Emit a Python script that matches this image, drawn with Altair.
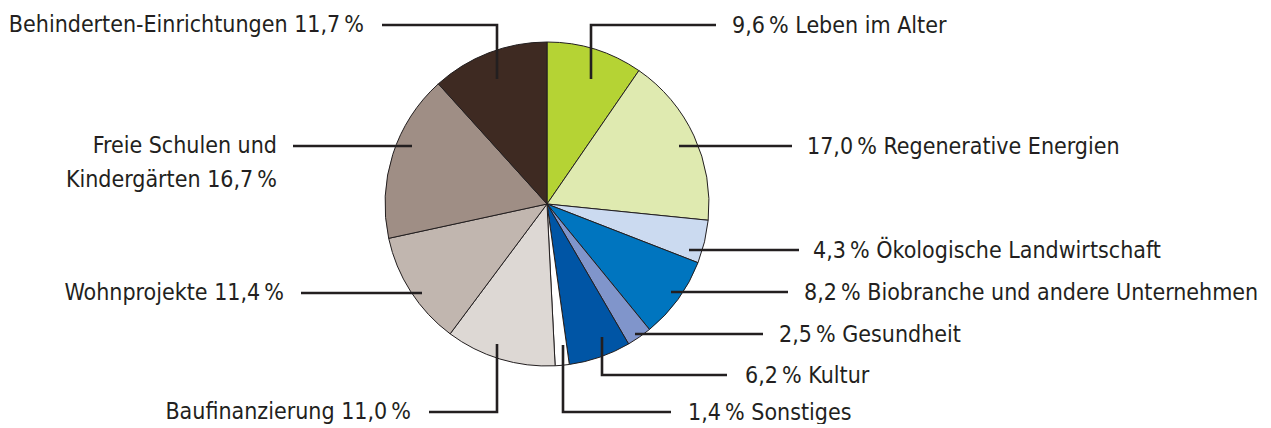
import altair as alt
import pandas as pd

# ---- data ----
categories = ["Leben im Alter", "Regenerative Energien", "Ökologische Landwirtschaft",
              "Biobranche und andere Unternehmen", "Gesundheit", "Kultur", "Sonstiges",
              "Baufinanzierung", "Wohnprojekte", "Freie Schulen und Kindergärten",
              "Behinderten-Einrichtungen"]
shares = [9.6, 17.0, 4.3, 8.2, 2.5, 6.2, 1.4, 11.0, 11.4, 16.7, 11.7]
colors = ["#b5d334", "#dfeab0", "#cbdaf0", "#0075bf", "#8095cb", "#0055a5", "#ffffff",
          "#ddd8d4", "#c1b6af", "#9f8e85", "#3e2a22"]
label_side = ["right", "right", "right", "right", "right", "right", "right",
              "left", "left", "left", "left"]

# ---- layout (pixel positions of annotations, page coordinates) ----
CX, CY, R = 547, 204, 162
anchor_x = [591, 679, 689, 671, 635, 602, 563, 497, 422, 412, 497]
anchor_y = [79, 146, 250, 292, 334, 337, 345, 344, 293, 146, 79]
line_y   = [25, 146, 250, 292, 334, 375, 412, 412, 293, 146, 25]
end_x    = [716, 792, 799, 788, 763, 727, 671, 429, 301, 293, 382]
text_x   = [732, 807, 813, 804, 779, 745, 688, 411, 284, 277, 364]

def fmt(v):
    return f"{v:.1f}".replace(".", ",") + "\u2009%"

pie_df = pd.DataFrame({"cat": categories, "share": shares, "idx": list(range(len(shares)))})

label_rows = []
for i, c in enumerate(categories):
    if label_side[i] == "right":
        txt = f"{fmt(shares[i])} {c}"
    elif c.startswith("Freie"):
        txt = f"Freie Schulen und\nKindergärten {fmt(shares[i])}"
    else:
        txt = f"{c} {fmt(shares[i])}"
    label_rows.append({"cat": c, "side": label_side[i], "text": txt,
                       "x": text_x[i], "y": line_y[i]})
label_df = pd.DataFrame(label_rows)

line_rows = []
for i, c in enumerate(categories):
    pts = [(anchor_x[i], anchor_y[i])]
    if anchor_y[i] != line_y[i]:
        pts.append((anchor_x[i], line_y[i]))
    pts.append((end_x[i], line_y[i]))
    for k, (px, py) in enumerate(pts):
        line_rows.append({"cat": c, "k": k, "x": px, "y": py})
line_df = pd.DataFrame(line_rows)

W, H = 1255, 416
xs = alt.Scale(domain=[8, 8 + W], nice=False, zero=False)
ys = alt.Scale(domain=[8, 8 + H], nice=False, zero=False, reverse=True)

pie = alt.Chart(pie_df).mark_arc(radius=R, stroke="#231f20", strokeWidth=1).encode(
    theta=alt.Theta("share:Q", stack=True),
    order=alt.Order("idx:Q"),
    color=alt.Color("cat:N", scale=alt.Scale(domain=categories, range=colors), legend=None),
    x=alt.value(CX - 8),
    y=alt.value(CY - 8),
)

leaders = alt.Chart(line_df).mark_line(color="#231f20", strokeWidth=2.6, strokeCap="butt",
                                       strokeJoin="miter").encode(
    x=alt.X("x:Q", scale=xs, axis=None),
    y=alt.Y("y:Q", scale=ys, axis=None),
    detail="cat:N",
    order="k:Q",
)

font = "DejaVu Sans Condensed"
FS = 23
txt_right = alt.Chart(label_df).transform_filter(alt.datum.side == "right").mark_text(
    align="left", baseline="middle", dy=1, font=font, fontSize=FS, color="#231f20",
    lineBreak="\n", lineHeight=34,
).encode(x=alt.X("x:Q", scale=xs, axis=None), y=alt.Y("y:Q", scale=ys, axis=None), text="text:N")

txt_left = alt.Chart(label_df).transform_filter(alt.datum.side == "left").mark_text(
    align="right", baseline="top", dy=-11, font=font, fontSize=FS, color="#231f20",
    lineBreak="\n", lineHeight=34,
).encode(x=alt.X("x:Q", scale=xs, axis=None), y=alt.Y("y:Q", scale=ys, axis=None), text="text:N")

chart = alt.layer(pie, leaders, txt_right, txt_left).properties(
    width=W, height=H, padding=0, autosize=alt.AutoSizeParams(type="none"),
    background="white",
).configure_view(stroke=None)

chart.save("out.html", embed_options={"renderer": "svg", "actions": False})
